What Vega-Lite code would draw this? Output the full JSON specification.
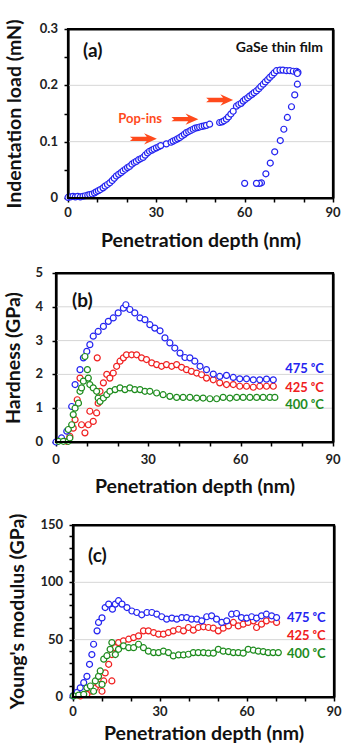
{
  "$schema": "https://vega.github.io/schema/vega-lite/v6.json",
  "background": "white",
  "padding": {"left": 3, "top": 18, "right": 5, "bottom": 2},
  "spacing": 16,
  "config": {
    "font": "Lato",
    "view": {"stroke": null},
    "axis": {
      "labels": false,
      "titleFont": "Lato", "titleFontWeight": "bold", "titleFontSize": 19.5, "titleColor": "#111",
      "domainColor": "black", "domainWidth": 2.2, "tickColor": "black", "tickWidth": 1.5, "tickSize": 4, "grid": false
    },
    "text": {"font": "Lato", "fontWeight": "bold"}
  },
  "vconcat": [
    {
      "width": 277, "height": 169,
      "view": {"stroke": null},
      "layer": [
        {
          "data": {"values": [{"depth": 0, "depth2": 90, "load": 0.1}, {"depth": 0, "depth2": 90, "load": 0.2}]},
          "mark": {"type": "rule", "color": "#d6d6d6", "strokeWidth": 1},
          "encoding": {
            "x": {"field": "depth", "type": "quantitative", "scale": {"domain": [0, 90], "nice": false, "range": [12, 277]},
              "axis": {"orient": "bottom", "title": "Penetration depth (nm)", "values": [0, 10, 20, 30, 40, 50, 60, 70, 80, 90], "labels": false, "titlePadding": 29}},
            "x2": {"field": "depth2"},
            "y": {"field": "load", "type": "quantitative", "scale": {"domain": [0, 0.3], "nice": false},
              "axis": {"orient": "left", "title": "Indentation load (mN)", "values": [0, 0.05, 0.1, 0.15, 0.2, 0.25, 0.3], "labels": false, "titlePadding": 39, "offset": -12}}
          }
        },
        {
          "data": {"values": [
            {"depth": 0, "load": 0.001}, {"depth": 0.8, "load": 0.002}, {"depth": 1.7, "load": 0.003}, {"depth": 2.5, "load": 0.002},
            {"depth": 3.3, "load": 0.003}, {"depth": 4.2, "load": 0.002}, {"depth": 5.1, "load": 0.003}, {"depth": 5.9, "load": 0.004},
            {"depth": 6.7, "load": 0.005}, {"depth": 7.4, "load": 0.006}, {"depth": 8.2, "load": 0.007}, {"depth": 9.0, "load": 0.009},
            {"depth": 9.6, "load": 0.011}, {"depth": 10.3, "load": 0.013}, {"depth": 11.0, "load": 0.015}, {"depth": 11.9, "load": 0.018},
            {"depth": 12.6, "load": 0.021}, {"depth": 13.4, "load": 0.024}, {"depth": 14.2, "load": 0.027}, {"depth": 15.0, "load": 0.031},
            {"depth": 15.7, "load": 0.035}, {"depth": 16.4, "load": 0.039}, {"depth": 17.2, "load": 0.042}, {"depth": 18.0, "load": 0.045},
            {"depth": 18.7, "load": 0.048}, {"depth": 19.5, "load": 0.051}, {"depth": 20.2, "load": 0.054}, {"depth": 20.9, "load": 0.056},
            {"depth": 21.7, "load": 0.06}, {"depth": 22.5, "load": 0.063}, {"depth": 23.2, "load": 0.065}, {"depth": 24.0, "load": 0.068},
            {"depth": 24.8, "load": 0.07}, {"depth": 25.5, "load": 0.072}, {"depth": 26.2, "load": 0.076}, {"depth": 27.0, "load": 0.08},
            {"depth": 27.7, "load": 0.083}, {"depth": 28.5, "load": 0.085}, {"depth": 29.2, "load": 0.087}, {"depth": 30.0, "load": 0.089},
            {"depth": 30.8, "load": 0.091}, {"depth": 31.5, "load": 0.093}, {"depth": 33.4, "load": 0.096}, {"depth": 35.0, "load": 0.099},
            {"depth": 35.7, "load": 0.101}, {"depth": 36.5, "load": 0.103}, {"depth": 37.2, "load": 0.105}, {"depth": 37.9, "load": 0.107},
            {"depth": 38.7, "load": 0.11}, {"depth": 39.5, "load": 0.113}, {"depth": 40.2, "load": 0.116}, {"depth": 41.0, "load": 0.118},
            {"depth": 41.7, "load": 0.12}, {"depth": 42.5, "load": 0.122}, {"depth": 43.2, "load": 0.124}, {"depth": 44.0, "load": 0.125},
            {"depth": 44.7, "load": 0.126}, {"depth": 45.5, "load": 0.127}, {"depth": 46.3, "load": 0.128}, {"depth": 47.0, "load": 0.129},
            {"depth": 48.1, "load": 0.131}, {"depth": 51.5, "load": 0.134}, {"depth": 52.3, "load": 0.135}, {"depth": 53.0, "load": 0.137},
            {"depth": 53.8, "load": 0.14}, {"depth": 54.5, "load": 0.144}, {"depth": 55.3, "load": 0.149}, {"depth": 56.1, "load": 0.154},
            {"depth": 57.2, "load": 0.163}, {"depth": 58.0, "load": 0.166}, {"depth": 58.8, "load": 0.168}, {"depth": 59.5, "load": 0.172},
            {"depth": 60.2, "load": 0.175}, {"depth": 61.0, "load": 0.178}, {"depth": 61.7, "load": 0.181}, {"depth": 62.5, "load": 0.184},
            {"depth": 63.2, "load": 0.187}, {"depth": 64.0, "load": 0.19}, {"depth": 64.8, "load": 0.194}, {"depth": 65.5, "load": 0.198},
            {"depth": 66.3, "load": 0.202}, {"depth": 67.0, "load": 0.206}, {"depth": 67.8, "load": 0.21}, {"depth": 68.5, "load": 0.214},
            {"depth": 69.3, "load": 0.218}, {"depth": 70.0, "load": 0.222}, {"depth": 70.8, "load": 0.226}, {"depth": 72.0, "load": 0.227},
            {"depth": 73.0, "load": 0.227}, {"depth": 74.2, "load": 0.226}, {"depth": 75.3, "load": 0.226}, {"depth": 76.5, "load": 0.225},
            {"depth": 77.6, "load": 0.225}, {"depth": 78.1, "load": 0.223},
            {"depth": 77.9, "load": 0.221}, {"depth": 77.9, "load": 0.202}, {"depth": 77.0, "load": 0.183}, {"depth": 75.9, "load": 0.162},
            {"depth": 74.5, "load": 0.143}, {"depth": 73.3, "load": 0.122}, {"depth": 72.1, "load": 0.102}, {"depth": 70.2, "load": 0.082},
            {"depth": 68.7, "load": 0.062}, {"depth": 67.2, "load": 0.043}, {"depth": 65.7, "load": 0.027}, {"depth": 65.0, "load": 0.026},
            {"depth": 64.0, "load": 0.026}, {"depth": 60.0, "load": 0.026}
          ]},
          "mark": {"type": "point", "shape": "circle", "filled": false, "fill": "white", "fillOpacity": 1, "stroke": "#2424f0", "strokeWidth": 1.2, "size": 36, "opacity": 1},
          "encoding": {"x": {"field": "depth", "type": "quantitative", "axis": null}, "y": {"field": "load", "type": "quantitative", "axis": null}}
        },
        {
          "data": {"values": [
            {"depth": 25.6, "load": 0.105}, {"depth": 39.7, "load": 0.14}, {"depth": 51.5, "load": 0.174}
          ]},
          "mark": {"type": "point", "shape": "M -1 -0.16 L 0.25 -0.16 L 0.05 -0.42 L 1 0 L 0.05 0.42 L 0.25 0.16 L -1 0.16 L -0.8 0 Z", "filled": true, "color": "#ff4a1c", "opacity": 1, "size": 729},
          "encoding": {"x": {"field": "depth", "type": "quantitative", "axis": null}, "y": {"field": "load", "type": "quantitative", "axis": null}}
        },
        {
          "data": {"values": [{"depth": 24.5, "load": 0.14, "label": "Pop-ins"}]},
          "mark": {"type": "text", "fontSize": 13, "color": "#ff4a1c", "align": "center", "baseline": "middle"},
          "encoding": {"x": {"field": "depth", "type": "quantitative", "axis": null}, "y": {"field": "load", "type": "quantitative", "axis": null}, "text": {"field": "label"}}
        },
        {
          "data": {"values": [{"depth": 5.1, "load": 0.261, "label": "(a)"}]},
          "mark": {"type": "text", "fontSize": 19, "color": "#111", "align": "left", "baseline": "middle"},
          "encoding": {"x": {"field": "depth", "type": "quantitative", "axis": null}, "y": {"field": "load", "type": "quantitative", "axis": null}, "text": {"field": "label"}}
        },
        {
          "data": {"values": [{"depth": 86.6, "load": 0.266, "label": "GaSe thin film"}]},
          "mark": {"type": "text", "fontSize": 14, "color": "#111", "align": "right", "baseline": "middle"},
          "encoding": {"x": {"field": "depth", "type": "quantitative", "axis": null}, "y": {"field": "load", "type": "quantitative", "axis": null}, "text": {"field": "label"}}
        },
        {
          "data": {"values": [{"depth": 0, "load": 0, "t": "0"}, {"depth": 30, "load": 0, "t": "30"}, {"depth": 60, "load": 0, "t": "60"}, {"depth": 90, "load": 0, "t": "90"}]},
          "mark": {"type": "text", "fontSize": 13, "color": "#222", "align": "center", "baseline": "top", "dy": 9},
          "encoding": {"x": {"field": "depth", "type": "quantitative", "axis": null}, "y": {"field": "load", "type": "quantitative", "axis": null}, "text": {"field": "t"}}
        },
        {
          "data": {"values": [{"depth": 0, "load": 0, "t": "0"}, {"depth": 0, "load": 0.1, "t": "0.1"}, {"depth": 0, "load": 0.2, "t": "0.2"}, {"depth": 0, "load": 0.3, "t": "0.3"}]},
          "mark": {"type": "text", "fontSize": 13, "color": "#222", "align": "right", "baseline": "middle", "dx": -10},
          "encoding": {"x": {"field": "depth", "type": "quantitative", "axis": null}, "y": {"field": "load", "type": "quantitative", "axis": null}, "text": {"field": "t"}}
        },
        {
          "data": {"values": [{"depth": 0, "depth2": 90, "load": 0, "load2": 0.3}]},
          "mark": {"type": "rect", "filled": false, "fill": null, "stroke": "black", "strokeWidth": 2.2},
          "encoding": {
            "x": {"field": "depth", "type": "quantitative", "axis": {"orient": "top", "title": null, "labels": false, "ticks": false, "domain": true, "domainColor": "black", "domainWidth": 2.2}},
            "x2": {"field": "depth2"},
            "y": {"field": "load", "type": "quantitative", "axis": {"orient": "right", "title": null, "labels": false, "ticks": false, "domain": true, "domainColor": "black", "domainWidth": 2.2}},
            "y2": {"field": "load2"}
          }
        }
      ]
    },
    {
      "width": 277, "height": 169,
      "view": {"stroke": null},
      "layer": [
        {
          "data": {"values": [{"depth": 0, "depth2": 90, "val": 1}, {"depth": 0, "depth2": 90, "val": 2}, {"depth": 0, "depth2": 90, "val": 3}, {"depth": 0, "depth2": 90, "val": 4}]},
          "mark": {"type": "rule", "color": "#d6d6d6", "strokeWidth": 1},
          "encoding": {
            "x": {"field": "depth", "type": "quantitative", "scale": {"domain": [0, 90], "nice": false},
              "axis": {"orient": "bottom", "title": "Penetration depth (nm)", "values": [0, 10, 20, 30, 40, 50, 60, 70, 80, 90], "labels": false, "titlePadding": 31}},
            "x2": {"field": "depth2"},
            "y": {"field": "val", "type": "quantitative", "scale": {"domain": [0, 5], "nice": false},
              "axis": {"orient": "left", "title": "Hardness (GPa)", "values": [0, 1, 2, 3, 4, 5], "labels": false, "titlePadding": 28}}
          }
        },
        {
          "data": {"values": [
            {"series": "425 ᵒC", "depth": 3.5, "val": 0.02}, {"series": "425 ᵒC", "depth": 4.5, "val": 0.17}, {"series": "425 ᵒC", "depth": 5.6, "val": 0.41},
            {"series": "425 ᵒC", "depth": 6.2, "val": 0.66}, {"series": "425 ᵒC", "depth": 6.9, "val": 1.25}, {"series": "425 ᵒC", "depth": 7.8, "val": 1.89},
            {"series": "425 ᵒC", "depth": 8.3, "val": 0.51}, {"series": "425 ᵒC", "depth": 9.4, "val": 0.27}, {"series": "425 ᵒC", "depth": 10.5, "val": 0.51},
            {"series": "425 ᵒC", "depth": 11.0, "val": 0.91}, {"series": "425 ᵒC", "depth": 12.1, "val": 0.61}, {"series": "425 ᵒC", "depth": 13.2, "val": 0.86},
            {"series": "425 ᵒC", "depth": 13.4, "val": 2.49}, {"series": "425 ᵒC", "depth": 13.7, "val": 1.15}, {"series": "425 ᵒC", "depth": 14.3, "val": 1.5},
            {"series": "425 ᵒC", "depth": 15.4, "val": 1.75}, {"series": "425 ᵒC", "depth": 16.5, "val": 2.0}, {"series": "425 ᵒC", "depth": 17.5, "val": 1.89},
            {"series": "425 ᵒC", "depth": 18.6, "val": 2.04}, {"series": "425 ᵒC", "depth": 19.7, "val": 2.24}, {"series": "425 ᵒC", "depth": 20.8, "val": 2.39},
            {"series": "425 ᵒC", "depth": 21.9, "val": 2.49}, {"series": "425 ᵒC", "depth": 22.9, "val": 2.58}, {"series": "425 ᵒC", "depth": 24.6, "val": 2.58},
            {"series": "425 ᵒC", "depth": 26.2, "val": 2.58}, {"series": "425 ᵒC", "depth": 27.8, "val": 2.49}, {"series": "425 ᵒC", "depth": 29.4, "val": 2.44},
            {"series": "425 ᵒC", "depth": 31.1, "val": 2.34}, {"series": "425 ᵒC", "depth": 32.7, "val": 2.29}, {"series": "425 ᵒC", "depth": 34.3, "val": 2.24},
            {"series": "425 ᵒC", "depth": 35.9, "val": 2.29}, {"series": "425 ᵒC", "depth": 37.6, "val": 2.24}, {"series": "425 ᵒC", "depth": 39.2, "val": 2.29},
            {"series": "425 ᵒC", "depth": 40.8, "val": 2.21}, {"series": "425 ᵒC", "depth": 42.4, "val": 2.14}, {"series": "425 ᵒC", "depth": 44.0, "val": 2.09},
            {"series": "425 ᵒC", "depth": 45.7, "val": 2.04}, {"series": "425 ᵒC", "depth": 47.3, "val": 1.99}, {"series": "425 ᵒC", "depth": 48.9, "val": 1.89},
            {"series": "425 ᵒC", "depth": 51.1, "val": 1.84}, {"series": "425 ᵒC", "depth": 53.2, "val": 1.75}, {"series": "425 ᵒC", "depth": 55.4, "val": 1.7},
            {"series": "425 ᵒC", "depth": 57.6, "val": 1.7}, {"series": "425 ᵒC", "depth": 59.7, "val": 1.65}, {"series": "425 ᵒC", "depth": 61.9, "val": 1.65},
            {"series": "425 ᵒC", "depth": 64.1, "val": 1.62}, {"series": "425 ᵒC", "depth": 66.2, "val": 1.65}, {"series": "425 ᵒC", "depth": 68.4, "val": 1.65},
            {"series": "425 ᵒC", "depth": 70.6, "val": 1.65},
            {"series": "475 ᵒC", "depth": 0, "val": 0}, {"series": "475 ᵒC", "depth": 1.8, "val": 0.12}, {"series": "475 ᵒC", "depth": 3.5, "val": 0.32},
            {"series": "475 ᵒC", "depth": 5.1, "val": 1.05}, {"series": "475 ᵒC", "depth": 6.2, "val": 1.7}, {"series": "475 ᵒC", "depth": 7.8, "val": 2.14},
            {"series": "475 ᵒC", "depth": 8.9, "val": 2.49}, {"series": "475 ᵒC", "depth": 10.0, "val": 2.68}, {"series": "475 ᵒC", "depth": 11.0, "val": 2.88},
            {"series": "475 ᵒC", "depth": 12.1, "val": 3.13}, {"series": "475 ᵒC", "depth": 13.7, "val": 3.27}, {"series": "475 ᵒC", "depth": 15.4, "val": 3.42},
            {"series": "475 ᵒC", "depth": 17.0, "val": 3.57}, {"series": "475 ᵒC", "depth": 18.6, "val": 3.67}, {"series": "475 ᵒC", "depth": 20.2, "val": 3.82},
            {"series": "475 ᵒC", "depth": 21.9, "val": 3.96}, {"series": "475 ᵒC", "depth": 22.7, "val": 4.06}, {"series": "475 ᵒC", "depth": 24.0, "val": 3.92},
            {"series": "475 ᵒC", "depth": 25.6, "val": 3.82}, {"series": "475 ᵒC", "depth": 27.3, "val": 3.67}, {"series": "475 ᵒC", "depth": 28.9, "val": 3.62},
            {"series": "475 ᵒC", "depth": 30.5, "val": 3.47}, {"series": "475 ᵒC", "depth": 32.1, "val": 3.37}, {"series": "475 ᵒC", "depth": 33.8, "val": 3.29},
            {"series": "475 ᵒC", "depth": 35.4, "val": 3.08}, {"series": "475 ᵒC", "depth": 37.0, "val": 2.93}, {"series": "475 ᵒC", "depth": 38.6, "val": 2.78},
            {"series": "475 ᵒC", "depth": 40.3, "val": 2.63}, {"series": "475 ᵒC", "depth": 41.9, "val": 2.5}, {"series": "475 ᵒC", "depth": 43.5, "val": 2.49},
            {"series": "475 ᵒC", "depth": 45.1, "val": 2.39}, {"series": "475 ᵒC", "depth": 46.8, "val": 2.24}, {"series": "475 ᵒC", "depth": 48.9, "val": 2.14},
            {"series": "475 ᵒC", "depth": 51.1, "val": 2.01}, {"series": "475 ᵒC", "depth": 53.2, "val": 1.94}, {"series": "475 ᵒC", "depth": 55.4, "val": 1.97},
            {"series": "475 ᵒC", "depth": 57.6, "val": 1.91}, {"series": "475 ᵒC", "depth": 59.7, "val": 1.87}, {"series": "475 ᵒC", "depth": 61.9, "val": 1.87},
            {"series": "475 ᵒC", "depth": 64.1, "val": 1.84}, {"series": "475 ᵒC", "depth": 66.2, "val": 1.84}, {"series": "475 ᵒC", "depth": 68.4, "val": 1.86},
            {"series": "475 ᵒC", "depth": 70.6, "val": 1.84},
            {"series": "400 ᵒC", "depth": 0.8, "val": 0.02}, {"series": "400 ᵒC", "depth": 2.4, "val": 0.02}, {"series": "400 ᵒC", "depth": 4.0, "val": 0.02},
            {"series": "400 ᵒC", "depth": 4.5, "val": 0.12}, {"series": "400 ᵒC", "depth": 4.0, "val": 0.37}, {"series": "400 ᵒC", "depth": 5.1, "val": 0.51},
            {"series": "400 ᵒC", "depth": 5.6, "val": 0.81}, {"series": "400 ᵒC", "depth": 6.2, "val": 1.0}, {"series": "400 ᵒC", "depth": 7.3, "val": 1.15},
            {"series": "400 ᵒC", "depth": 7.8, "val": 1.5}, {"series": "400 ᵒC", "depth": 8.3, "val": 1.6}, {"series": "400 ᵒC", "depth": 8.9, "val": 1.8},
            {"series": "400 ᵒC", "depth": 9.4, "val": 2.53}, {"series": "400 ᵒC", "depth": 10.2, "val": 2.14}, {"series": "400 ᵒC", "depth": 10.5, "val": 1.89},
            {"series": "400 ᵒC", "depth": 11.0, "val": 1.7}, {"series": "400 ᵒC", "depth": 12.1, "val": 1.6}, {"series": "400 ᵒC", "depth": 13.2, "val": 1.5},
            {"series": "400 ᵒC", "depth": 13.7, "val": 1.3}, {"series": "400 ᵒC", "depth": 14.3, "val": 1.2}, {"series": "400 ᵒC", "depth": 15.4, "val": 1.3},
            {"series": "400 ᵒC", "depth": 16.5, "val": 1.4}, {"series": "400 ᵒC", "depth": 17.5, "val": 1.5}, {"series": "400 ᵒC", "depth": 19.2, "val": 1.55},
            {"series": "400 ᵒC", "depth": 20.8, "val": 1.6}, {"series": "400 ᵒC", "depth": 22.4, "val": 1.55}, {"series": "400 ᵒC", "depth": 24.0, "val": 1.6},
            {"series": "400 ᵒC", "depth": 25.6, "val": 1.55}, {"series": "400 ᵒC", "depth": 27.3, "val": 1.55}, {"series": "400 ᵒC", "depth": 28.9, "val": 1.5},
            {"series": "400 ᵒC", "depth": 30.5, "val": 1.5}, {"series": "400 ᵒC", "depth": 32.7, "val": 1.45}, {"series": "400 ᵒC", "depth": 34.8, "val": 1.4},
            {"series": "400 ᵒC", "depth": 37.0, "val": 1.35}, {"series": "400 ᵒC", "depth": 39.2, "val": 1.32}, {"series": "400 ᵒC", "depth": 41.3, "val": 1.32},
            {"series": "400 ᵒC", "depth": 43.5, "val": 1.32}, {"series": "400 ᵒC", "depth": 45.7, "val": 1.3}, {"series": "400 ᵒC", "depth": 47.8, "val": 1.3},
            {"series": "400 ᵒC", "depth": 50.0, "val": 1.28}, {"series": "400 ᵒC", "depth": 52.2, "val": 1.28}, {"series": "400 ᵒC", "depth": 54.3, "val": 1.32},
            {"series": "400 ᵒC", "depth": 56.5, "val": 1.3}, {"series": "400 ᵒC", "depth": 58.7, "val": 1.32}, {"series": "400 ᵒC", "depth": 60.8, "val": 1.32},
            {"series": "400 ᵒC", "depth": 63.0, "val": 1.32}, {"series": "400 ᵒC", "depth": 65.2, "val": 1.32}, {"series": "400 ᵒC", "depth": 67.3, "val": 1.32},
            {"series": "400 ᵒC", "depth": 69.5, "val": 1.32}, {"series": "400 ᵒC", "depth": 71.1, "val": 1.32}
          ]},
          "mark": {"type": "point", "shape": "circle", "filled": false, "fill": "white", "fillOpacity": 1, "strokeWidth": 1.2, "size": 36, "opacity": 1},
          "encoding": {
            "x": {"field": "depth", "type": "quantitative", "axis": null},
            "y": {"field": "val", "type": "quantitative", "axis": null},
            "stroke": {"field": "series", "type": "nominal", "legend": null,
              "scale": {"domain": ["475 ᵒC", "425 ᵒC", "400 ᵒC"], "range": ["#2424f0", "#f02020", "#1e8c1e"]}}
          }
        },
        {
          "data": {"values": [
            {"series": "475 ᵒC", "depth": 74.5, "val": 2.16}, {"series": "425 ᵒC", "depth": 74.5, "val": 1.6}, {"series": "400 ᵒC", "depth": 74.5, "val": 1.09}
          ]},
          "mark": {"type": "text", "fontSize": 13, "align": "left", "baseline": "middle"},
          "encoding": {
            "x": {"field": "depth", "type": "quantitative", "axis": null}, "y": {"field": "val", "type": "quantitative", "axis": null},
            "text": {"field": "series"},
            "color": {"field": "series", "type": "nominal", "legend": null,
              "scale": {"domain": ["475 ᵒC", "425 ᵒC", "400 ᵒC"], "range": ["#2424f0", "#f02020", "#1e8c1e"]}}
          }
        },
        {
          "data": {"values": [{"depth": 5.2, "val": 4.17, "label": "(b)"}]},
          "mark": {"type": "text", "fontSize": 19, "color": "#111", "align": "left", "baseline": "middle"},
          "encoding": {"x": {"field": "depth", "type": "quantitative", "axis": null}, "y": {"field": "val", "type": "quantitative", "axis": null}, "text": {"field": "label"}}
        },
        {
          "data": {"values": [{"depth": 0, "val": 0, "t": "0"}, {"depth": 30, "val": 0, "t": "30"}, {"depth": 60, "val": 0, "t": "60"}, {"depth": 90, "val": 0, "t": "90"}]},
          "mark": {"type": "text", "fontSize": 13, "color": "#222", "align": "center", "baseline": "top", "dy": 12},
          "encoding": {"x": {"field": "depth", "type": "quantitative", "axis": null}, "y": {"field": "val", "type": "quantitative", "axis": null}, "text": {"field": "t"}}
        },
        {
          "data": {"values": [{"depth": 0, "val": 0, "t": "0"}, {"depth": 0, "val": 1, "t": "1"}, {"depth": 0, "val": 2, "t": "2"}, {"depth": 0, "val": 3, "t": "3"}, {"depth": 0, "val": 4, "t": "4"}, {"depth": 0, "val": 5, "t": "5"}]},
          "mark": {"type": "text", "fontSize": 13, "color": "#222", "align": "right", "baseline": "middle", "dx": -13},
          "encoding": {"x": {"field": "depth", "type": "quantitative", "axis": null}, "y": {"field": "val", "type": "quantitative", "axis": null}, "text": {"field": "t"}}
        },
        {
          "data": {"values": [{"depth": 0, "depth2": 90, "val": 0, "val2": 5}]},
          "mark": {"type": "rect", "filled": false, "fill": null, "stroke": "black", "strokeWidth": 2.2},
          "encoding": {
            "x": {"field": "depth", "type": "quantitative", "axis": {"orient": "top", "title": null, "labels": false, "ticks": false, "domain": true, "domainColor": "black", "domainWidth": 2.2}},
            "x2": {"field": "depth2"},
            "y": {"field": "val", "type": "quantitative", "axis": {"orient": "right", "title": null, "labels": false, "ticks": false, "domain": true, "domainColor": "black", "domainWidth": 2.2}},
            "y2": {"field": "val2"}
          }
        }
      ]
    },
    {
      "width": 278, "height": 172,
      "view": {"stroke": null},
      "layer": [
        {
          "data": {"values": [{"depth": 0, "depth2": 90, "val": 50}, {"depth": 0, "depth2": 90, "val": 100}]},
          "mark": {"type": "rule", "color": "#d6d6d6", "strokeWidth": 1},
          "encoding": {
            "x": {"field": "depth", "type": "quantitative", "scale": {"domain": [0, 90], "nice": false, "range": [17, 278]},
              "axis": {"orient": "bottom", "title": "Penetration depth (nm)", "values": [0, 10, 20, 30, 40, 50, 60, 70, 80, 90], "labels": false, "titlePadding": 23}},
            "x2": {"field": "depth2"},
            "y": {"field": "val", "type": "quantitative", "scale": {"domain": [0, 150], "nice": false},
              "axis": {"orient": "left", "title": "Young's modulus (GPa)", "values": [0, 10, 20, 30, 40, 50, 60, 70, 80, 90, 100, 110, 120, 130, 140, 150], "labels": false, "titlePadding": 41, "offset": -17}}
          }
        },
        {
          "data": {"values": [
            {"series": "425 ᵒC", "depth": 2.5, "val": 1}, {"series": "425 ᵒC", "depth": 4.8, "val": 2.3}, {"series": "425 ᵒC", "depth": 6.5, "val": 5},
            {"series": "425 ᵒC", "depth": 7.7, "val": 8}, {"series": "425 ᵒC", "depth": 8.8, "val": 11}, {"series": "425 ᵒC", "depth": 10.0, "val": 5},
            {"series": "425 ᵒC", "depth": 10.6, "val": 14}, {"series": "425 ᵒC", "depth": 11.1, "val": 21}, {"series": "425 ᵒC", "depth": 12.3, "val": 28.5},
            {"series": "425 ᵒC", "depth": 13.4, "val": 37}, {"series": "425 ᵒC", "depth": 13.4, "val": 14}, {"series": "425 ᵒC", "depth": 14.6, "val": 43},
            {"series": "425 ᵒC", "depth": 15.7, "val": 47.5}, {"series": "425 ᵒC", "depth": 17.4, "val": 49}, {"series": "425 ᵒC", "depth": 19.2, "val": 50.4},
            {"series": "425 ᵒC", "depth": 20.9, "val": 51.8}, {"series": "425 ᵒC", "depth": 22.6, "val": 53.3}, {"series": "425 ᵒC", "depth": 24.3, "val": 57.7},
            {"series": "425 ᵒC", "depth": 26.0, "val": 57.7}, {"series": "425 ᵒC", "depth": 27.8, "val": 56.2}, {"series": "425 ᵒC", "depth": 29.5, "val": 54.8},
            {"series": "425 ᵒC", "depth": 31.2, "val": 54.8}, {"series": "425 ᵒC", "depth": 32.9, "val": 56.2}, {"series": "425 ᵒC", "depth": 34.6, "val": 57.7},
            {"series": "425 ᵒC", "depth": 36.4, "val": 59.1}, {"series": "425 ᵒC", "depth": 38.1, "val": 57.7}, {"series": "425 ᵒC", "depth": 39.8, "val": 60.6},
            {"series": "425 ᵒC", "depth": 41.5, "val": 58.3}, {"series": "425 ᵒC", "depth": 43.2, "val": 60.6}, {"series": "425 ᵒC", "depth": 45.0, "val": 61.2},
            {"series": "425 ᵒC", "depth": 46.7, "val": 60.6}, {"series": "425 ᵒC", "depth": 48.4, "val": 60}, {"series": "425 ᵒC", "depth": 50.1, "val": 57.7},
            {"series": "425 ᵒC", "depth": 51.8, "val": 60}, {"series": "425 ᵒC", "depth": 53.6, "val": 62}, {"series": "425 ᵒC", "depth": 55.3, "val": 65},
            {"series": "425 ᵒC", "depth": 57.0, "val": 62}, {"series": "425 ᵒC", "depth": 58.7, "val": 63.5}, {"series": "425 ᵒC", "depth": 60.4, "val": 65},
            {"series": "425 ᵒC", "depth": 62.2, "val": 66.4}, {"series": "425 ᵒC", "depth": 63.3, "val": 60.6}, {"series": "425 ᵒC", "depth": 65.0, "val": 63.5},
            {"series": "425 ᵒC", "depth": 66.7, "val": 66.4}, {"series": "425 ᵒC", "depth": 68.5, "val": 67.9}, {"series": "425 ᵒC", "depth": 70.2, "val": 65},
            {"series": "475 ᵒC", "depth": 0, "val": 1}, {"series": "475 ᵒC", "depth": 1.4, "val": 4}, {"series": "475 ᵒC", "depth": 2.5, "val": 8},
            {"series": "475 ᵒC", "depth": 3.7, "val": 12.5}, {"series": "475 ᵒC", "depth": 4.8, "val": 18}, {"series": "475 ᵒC", "depth": 5.7, "val": 28.5},
            {"series": "475 ᵒC", "depth": 6.5, "val": 37}, {"series": "475 ᵒC", "depth": 7.1, "val": 46}, {"series": "475 ᵒC", "depth": 8.3, "val": 57.7},
            {"series": "475 ᵒC", "depth": 8.8, "val": 65}, {"series": "475 ᵒC", "depth": 10.0, "val": 69}, {"series": "475 ᵒC", "depth": 11.1, "val": 78},
            {"series": "475 ᵒC", "depth": 12.3, "val": 81}, {"series": "475 ᵒC", "depth": 13.6, "val": 76.6}, {"series": "475 ᵒC", "depth": 14.6, "val": 81},
            {"series": "475 ᵒC", "depth": 15.7, "val": 84}, {"series": "475 ᵒC", "depth": 16.9, "val": 81}, {"series": "475 ᵒC", "depth": 18.6, "val": 78},
            {"series": "475 ᵒC", "depth": 20.3, "val": 75}, {"series": "475 ᵒC", "depth": 22.0, "val": 73.7}, {"series": "475 ᵒC", "depth": 23.7, "val": 71.7},
            {"series": "475 ᵒC", "depth": 25.5, "val": 73.7}, {"series": "475 ᵒC", "depth": 27.2, "val": 73.7}, {"series": "475 ᵒC", "depth": 28.9, "val": 72.2},
            {"series": "475 ᵒC", "depth": 30.6, "val": 70}, {"series": "475 ᵒC", "depth": 32.3, "val": 67.9}, {"series": "475 ᵒC", "depth": 34.1, "val": 68.8},
            {"series": "475 ᵒC", "depth": 35.8, "val": 67.9}, {"series": "475 ᵒC", "depth": 37.5, "val": 69.3}, {"series": "475 ᵒC", "depth": 39.2, "val": 69.3},
            {"series": "475 ᵒC", "depth": 40.9, "val": 67.9}, {"series": "475 ᵒC", "depth": 42.7, "val": 67.9}, {"series": "475 ᵒC", "depth": 44.4, "val": 66.4},
            {"series": "475 ᵒC", "depth": 46.1, "val": 70}, {"series": "475 ᵒC", "depth": 47.8, "val": 70.8}, {"series": "475 ᵒC", "depth": 49.5, "val": 67.9},
            {"series": "475 ᵒC", "depth": 51.3, "val": 65}, {"series": "475 ᵒC", "depth": 53.0, "val": 66.4}, {"series": "475 ᵒC", "depth": 54.7, "val": 72.2},
            {"series": "475 ᵒC", "depth": 56.4, "val": 72.8}, {"series": "475 ᵒC", "depth": 58.1, "val": 69.3}, {"series": "475 ᵒC", "depth": 59.9, "val": 68.8},
            {"series": "475 ᵒC", "depth": 61.6, "val": 70}, {"series": "475 ᵒC", "depth": 63.3, "val": 68.8}, {"series": "475 ᵒC", "depth": 65.0, "val": 70.8},
            {"series": "475 ᵒC", "depth": 66.7, "val": 72.2}, {"series": "475 ᵒC", "depth": 68.5, "val": 70.8}, {"series": "475 ᵒC", "depth": 70.2, "val": 69.3},
            {"series": "400 ᵒC", "depth": 0.2, "val": 1}, {"series": "400 ᵒC", "depth": 2.0, "val": 1.7}, {"series": "400 ᵒC", "depth": 3.7, "val": 2.3},
            {"series": "400 ᵒC", "depth": 4.8, "val": 8}, {"series": "400 ᵒC", "depth": 6.0, "val": 9.6}, {"series": "400 ᵒC", "depth": 7.1, "val": 5},
            {"series": "400 ᵒC", "depth": 7.7, "val": 14}, {"series": "400 ᵒC", "depth": 8.8, "val": 18}, {"series": "400 ᵒC", "depth": 9.4, "val": 22.7},
            {"series": "400 ᵒC", "depth": 10.0, "val": 11}, {"series": "400 ᵒC", "depth": 10.6, "val": 33}, {"series": "400 ᵒC", "depth": 11.7, "val": 36},
            {"series": "400 ᵒC", "depth": 12.8, "val": 41.6}, {"series": "400 ᵒC", "depth": 13.4, "val": 47.5}, {"series": "400 ᵒC", "depth": 14.6, "val": 37},
            {"series": "400 ᵒC", "depth": 15.7, "val": 41.6}, {"series": "400 ᵒC", "depth": 17.4, "val": 44.6}, {"series": "400 ᵒC", "depth": 19.2, "val": 43},
            {"series": "400 ᵒC", "depth": 20.9, "val": 43}, {"series": "400 ᵒC", "depth": 22.6, "val": 46}, {"series": "400 ᵒC", "depth": 24.3, "val": 43},
            {"series": "400 ᵒC", "depth": 26.0, "val": 40}, {"series": "400 ᵒC", "depth": 27.8, "val": 38.7}, {"series": "400 ᵒC", "depth": 29.5, "val": 38.7},
            {"series": "400 ᵒC", "depth": 31.2, "val": 40}, {"series": "400 ᵒC", "depth": 32.9, "val": 38.7}, {"series": "400 ᵒC", "depth": 34.6, "val": 35.8},
            {"series": "400 ᵒC", "depth": 36.4, "val": 36.7}, {"series": "400 ᵒC", "depth": 38.1, "val": 36.7}, {"series": "400 ᵒC", "depth": 39.8, "val": 37.3},
            {"series": "400 ᵒC", "depth": 41.5, "val": 38.7}, {"series": "400 ᵒC", "depth": 43.2, "val": 38.7}, {"series": "400 ᵒC", "depth": 45.0, "val": 38.7},
            {"series": "400 ᵒC", "depth": 46.7, "val": 38.2}, {"series": "400 ᵒC", "depth": 48.4, "val": 38.2}, {"series": "400 ᵒC", "depth": 50.1, "val": 41.6},
            {"series": "400 ᵒC", "depth": 51.8, "val": 40}, {"series": "400 ᵒC", "depth": 53.6, "val": 39.6}, {"series": "400 ᵒC", "depth": 55.3, "val": 38.7},
            {"series": "400 ᵒC", "depth": 57.0, "val": 38.7}, {"series": "400 ᵒC", "depth": 58.7, "val": 38.2}, {"series": "400 ᵒC", "depth": 60.4, "val": 41.6},
            {"series": "400 ᵒC", "depth": 62.2, "val": 40.8}, {"series": "400 ᵒC", "depth": 63.9, "val": 40}, {"series": "400 ᵒC", "depth": 65.6, "val": 39.6},
            {"series": "400 ᵒC", "depth": 67.3, "val": 38.7}, {"series": "400 ᵒC", "depth": 69.0, "val": 38.7}, {"series": "400 ᵒC", "depth": 70.8, "val": 38.7}
          ]},
          "mark": {"type": "point", "shape": "circle", "filled": false, "fill": "white", "fillOpacity": 1, "strokeWidth": 1.2, "size": 36, "opacity": 1},
          "encoding": {
            "x": {"field": "depth", "type": "quantitative", "axis": null},
            "y": {"field": "val", "type": "quantitative", "axis": null},
            "stroke": {"field": "series", "type": "nominal", "legend": null,
              "scale": {"domain": ["475 ᵒC", "425 ᵒC", "400 ᵒC"], "range": ["#2424f0", "#f02020", "#1e8c1e"]}}
          }
        },
        {
          "data": {"values": [
            {"series": "475 ᵒC", "depth": 73.8, "val": 69}, {"series": "425 ᵒC", "depth": 73.8, "val": 53}, {"series": "400 ᵒC", "depth": 73.8, "val": 37.5}
          ]},
          "mark": {"type": "text", "fontSize": 13, "align": "left", "baseline": "middle"},
          "encoding": {
            "x": {"field": "depth", "type": "quantitative", "axis": null}, "y": {"field": "val", "type": "quantitative", "axis": null},
            "text": {"field": "series"},
            "color": {"field": "series", "type": "nominal", "legend": null,
              "scale": {"domain": ["475 ᵒC", "425 ᵒC", "400 ᵒC"], "range": ["#2424f0", "#f02020", "#1e8c1e"]}}
          }
        },
        {
          "data": {"values": [{"depth": 5.2, "val": 123, "label": "(c)"}]},
          "mark": {"type": "text", "fontSize": 19, "color": "#111", "align": "left", "baseline": "middle"},
          "encoding": {"x": {"field": "depth", "type": "quantitative", "axis": null}, "y": {"field": "val", "type": "quantitative", "axis": null}, "text": {"field": "label"}}
        },
        {
          "data": {"values": [{"depth": 0, "val": 0, "t": "0"}, {"depth": 30, "val": 0, "t": "30"}, {"depth": 60, "val": 0, "t": "60"}, {"depth": 90, "val": 0, "t": "90"}]},
          "mark": {"type": "text", "fontSize": 13, "color": "#222", "align": "center", "baseline": "top", "dy": 9},
          "encoding": {"x": {"field": "depth", "type": "quantitative", "axis": null}, "y": {"field": "val", "type": "quantitative", "axis": null}, "text": {"field": "t"}}
        },
        {
          "data": {"values": [{"depth": 0, "val": 0, "t": "0"}, {"depth": 0, "val": 50, "t": "50"}, {"depth": 0, "val": 100, "t": "100"}, {"depth": 0, "val": 150, "t": "150"}]},
          "mark": {"type": "text", "fontSize": 13, "color": "#222", "align": "right", "baseline": "middle", "dx": -10},
          "encoding": {"x": {"field": "depth", "type": "quantitative", "axis": null}, "y": {"field": "val", "type": "quantitative", "axis": null}, "text": {"field": "t"}}
        },
        {
          "data": {"values": [{"depth": 0, "depth2": 90, "val": 0, "val2": 150}]},
          "mark": {"type": "rect", "filled": false, "fill": null, "stroke": "black", "strokeWidth": 2.2},
          "encoding": {
            "x": {"field": "depth", "type": "quantitative", "axis": {"orient": "top", "title": null, "labels": false, "ticks": false, "domain": true, "domainColor": "black", "domainWidth": 2.2}},
            "x2": {"field": "depth2"},
            "y": {"field": "val", "type": "quantitative", "axis": {"orient": "right", "title": null, "labels": false, "ticks": false, "domain": true, "domainColor": "black", "domainWidth": 2.2}},
            "y2": {"field": "val2"}
          }
        }
      ]
    }
  ]
}
